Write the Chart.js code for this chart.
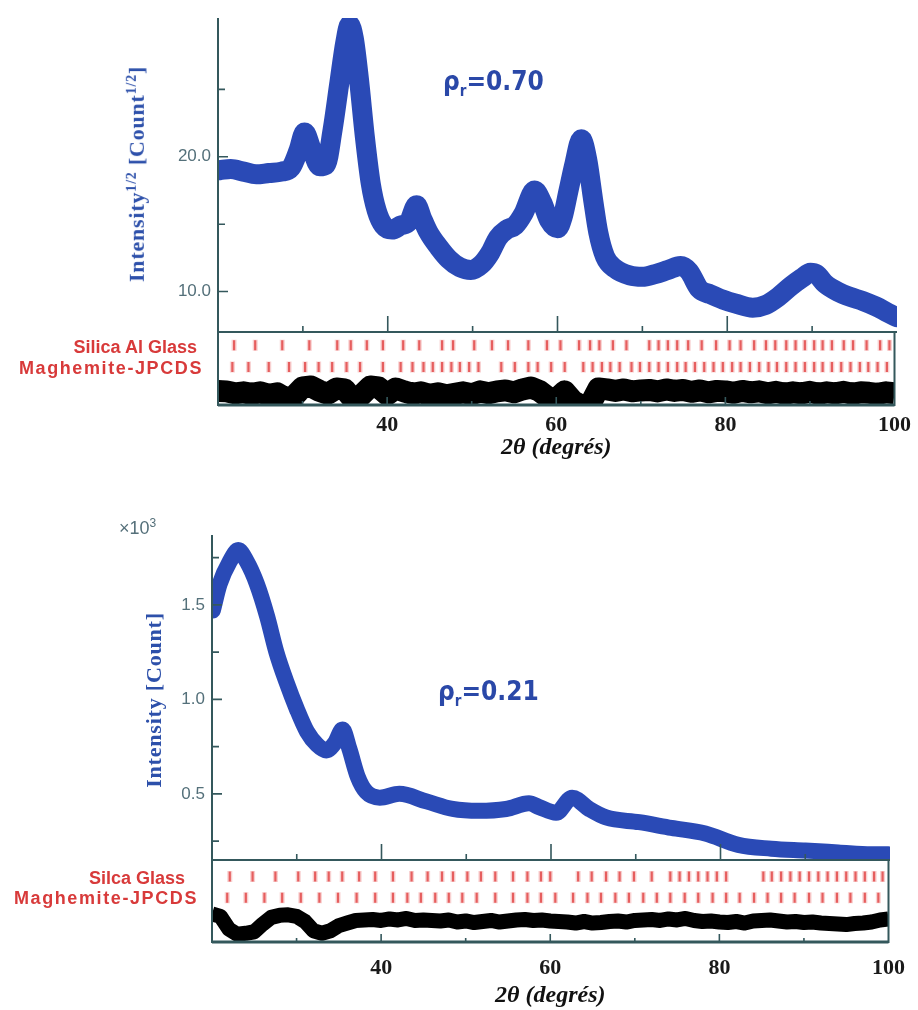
<!DOCTYPE html>
<html>
<head>
<meta charset="utf-8">
<script src="https://cdn.jsdelivr.net/npm/chart.js@4.4.1/dist/chart.umd.min.js"></script>
<style>
  body { margin: 0; background: #fff; width: 918px; height: 1010px; position: relative; overflow: hidden; }
  canvas { position: absolute; left: 0; }
  .ytitle { position: absolute; font: bold 22px 'Liberation Serif', serif; color: #2d50aa; white-space: nowrap;
            transform: translate(-50%, -50%) rotate(-90deg); letter-spacing: 0.8px; }
  .ytitle sup { font-size: 14px; }
  .rho { position: absolute; font: bold 26px 'Liberation Sans Narrow', 'DejaVu Sans Condensed', sans-serif; color: #2a48a8; white-space: nowrap; }
  .rho sub { font-size: 15px; }
  .row { position: absolute; width: 210px; text-align: right; font: bold 18px 'Liberation Sans', Arial, sans-serif;
         color: #d83a3a; white-space: nowrap; transform: translateY(-50%); }
  .mult { position: absolute; font: 18px 'Liberation Sans', Arial, sans-serif; color: #55707a; }
</style>
</head>
<body>
<canvas id="main70" width="918" height="340" style="top:0"></canvas>
<canvas id="low70" width="918" height="130" style="top:332px"></canvas>
<canvas id="main21" width="918" height="345" style="top:520px"></canvas>
<canvas id="low21" width="918" height="150" style="top:860px"></canvas>

<div class="ytitle" style="left:137px; top:174px">Intensity<sup>1/2</sup> [Count<sup>1/2</sup>]</div>
<div class="ytitle" style="left:154px; top:700px">Intensity [Count]</div>
<div class="rho" style="left:443px; top:66px">ρ<sub>r</sub>=0.70</div>
<div class="rho" style="left:438px; top:676px">ρ<sub>r</sub>=0.21</div>
<div class="mult" style="left:119px; top:516px">×10<sup style="font-size:12px">3</sup></div>
<div class="row" style="left:-13px; top:347px">Silica Al Glass</div>
<div class="row" style="left:-7px; top:368px; letter-spacing:1.6px">Maghemite-JPCDS</div>
<div class="row" style="left:-25px; top:878px">Silca Glass</div>
<div class="row" style="left:-12px; top:898px; letter-spacing:1.6px">Maghemite-JPCDS</div>

<script>
// ---- observed profile, rho_r = 0.70 (sqrt counts) ----
const tth70 = [20.2, 21.5, 23, 24.5, 26, 27.5, 28.6, 29.5, 30.2, 31, 32, 32.7, 33.5, 34.3, 35, 35.5, 36, 36.6, 37.3, 38,
               38.7, 39.5, 40.5, 41.5, 42.5, 43.4, 44, 44.8, 46, 47.2, 48.5, 49.8, 51, 52, 53, 54, 55, 56, 57.3, 58.2,
               59, 60, 60.6, 61.3, 62, 62.8, 63.5, 64.2, 64.8, 65.6, 66.8, 68.5, 70, 71.5, 73, 74.5, 75.5, 76.7, 78, 79.5,
               81, 83, 84.5, 86, 87.5, 88.8, 89.8, 90.5, 91.5, 93, 94.5, 96, 97.5, 99, 100];
const int70 = [19.0, 19.1, 18.9, 18.7, 18.8, 18.9, 19.2, 20.5, 21.8, 20.6, 19.3, 19.4, 22.0, 25.5, 28.5, 29.8, 28.8, 25.8, 21.5, 18.0,
               16.0, 14.9, 14.6, 14.9, 15.2, 16.4, 15.5, 14.4, 13.3, 12.4, 11.8, 11.6, 12.0, 12.8, 14.0, 14.6, 14.9, 15.8, 17.5, 16.6,
               15.3, 14.7, 15.5, 17.5, 19.5, 21.3, 19.8, 16.8, 14.4, 12.6, 11.7, 11.2, 11.1, 11.3, 11.6, 11.9, 11.5, 10.2, 9.8, 9.4,
               9.1, 8.8, 9.0, 9.6, 10.4, 11.0, 11.4, 11.3, 10.6, 10.0, 9.6, 9.3, 8.9, 8.4, 8.1];

// ---- observed profile, rho_r = 0.21 (x1000 counts) ----
const tth21 = [20.1, 20.9, 22.1, 23.1, 24.1, 25.3, 26.5, 27.6, 28.8, 30.0, 31.2, 32.4, 33.5, 34.5, 35.4, 36.2, 37.2, 38.2, 39.8, 42.1,
               45.3, 48.4, 51.5, 54.7, 57.4, 58.6, 60.6, 62.5, 64.5, 66.5, 70.4, 74.2, 78.2, 82.1, 86.0, 90.0, 93.9, 97.8, 99.8];
const int21 = [1.47, 1.61, 1.73, 1.79, 1.73, 1.61, 1.44, 1.25, 1.09, 0.95, 0.83, 0.76, 0.73, 0.77, 0.84, 0.74, 0.59, 0.51, 0.48, 0.50,
               0.46, 0.42, 0.41, 0.42, 0.45, 0.43, 0.40, 0.48, 0.42, 0.375, 0.35, 0.32, 0.29, 0.23, 0.21, 0.20, 0.19, 0.18, 0.18];

// ---- difference curves (obs - calc), one value per degree ----
const diffDeg = [20, 21, 22, 23, 24, 25, 26, 27, 28, 29, 30, 31, 32, 33, 34, 35, 36, 37, 38, 39,
                 40, 41, 42, 43, 44, 45, 46, 47, 48, 49, 50, 51, 52, 53, 54, 55, 56, 57, 58, 59,
                 60, 61, 62, 63, 64, 65, 66, 67, 68, 69, 70, 71, 72, 73, 74, 75, 76, 77, 78, 79,
                 80, 81, 82, 83, 84, 85, 86, 87, 88, 89, 90, 91, 92, 93, 94, 95, 96, 97, 98, 99, 100];
const diff70 = [0.3, 0.2, -0.2, 0, -0.3, 0, -0.5, -0.2, -1.2, -0.8, 1.0, 1.2, 0.3, -0.3, 0.8, 0.6, -1.5, -0.5, 1.2, 1.0,
                -0.5, 0.8, 0.2, -0.3, 0, -0.5, -0.2, -0.6, -0.3, 0, -0.4, 0.2, -0.2, 0.2, 0.4, 0, 0.6, 1.0, 0.3, -1.0,
                -1.4, 0.2, -1.8, -2.8, -2.5, 0.8, 0.6, 0.3, 0.6, 0.2, 0.4, 0.5, 0.2, 0.6, 0.3, 0.5, 0.1, 0.4, 0, 0.3,
                0.2, -0.1, 0.3, 0, 0.2, -0.2, 0.1, -0.3, 0, -0.2, 0.1, -0.3, 0, -0.2, 0.1, -0.3, 0, -0.1, -0.3, 0, -0.2];
const diff21 = [1.5, 1.0, -1.5, -2.5, -2.3, -2.0, -0.5, 0.8, 1.2, 1.3, 1.0, 0, -1.8, -2.3, -1.8, -0.8, -0.3, 0.2, 0.3, 0.4,
                0.2, 0.5, 0.3, 0.6, 0.2, 0.3, 0.2, 0.1, 0.3, -0.1, 0.1, -0.2, 0, 0.2, -0.1, 0.1, 0.3, 0.4, 0.2, 0.3,
                0.1, 0, -0.1, -0.3, 0, -0.3, -0.2, 0, 0.1, -0.1, 0.2, 0.3, 0.4, 0.2, 0.5, 0.3, 0.6, 0.2, 0, 0.1,
                -0.1, -0.2, 0, -0.3, 0.1, 0.2, 0.3, 0.1, -0.1, 0, -0.2, -0.1, -0.3, -0.4, -0.5, -0.6, -0.4, -0.3, -0.1, 0.3, 0.5];

// ---- Bragg reflection positions (2theta) ----
const glass70 = [21.9, 24.4, 27.6, 30.8, 34.1, 35.7, 37.6, 39.5, 41.9, 43.8, 46.5, 47.8, 50.3, 52.4, 54.3, 56.7, 58.9, 60.5,
                 62.7, 64.0, 65.1, 66.7, 68.3, 71.0, 72.1, 73.2, 74.3, 75.6, 77.2, 78.9, 80.5, 81.8, 83.4, 84.8, 85.9, 87.2,
                 88.3, 89.4, 90.5, 91.5, 92.6, 94.0, 95.1, 96.7, 98.3, 99.4];
const magh70 = [21.7, 23.6, 26.0, 28.4, 30.3, 31.9, 33.5, 35.2, 36.8, 39.5, 41.6, 43.0, 44.3, 45.4, 46.5, 47.6, 48.6, 49.7,
                50.8, 53.5, 55.1, 56.7, 57.8, 59.4, 61.0, 63.2, 64.3, 65.4, 66.4, 67.5, 68.9, 69.9, 71.0, 72.1, 73.2, 74.3,
                75.3, 76.4, 77.5, 78.6, 79.7, 80.8, 81.8, 82.9, 84.0, 85.1, 86.1, 87.2, 88.3, 89.4, 90.5, 91.5, 92.6, 93.7,
                94.8, 95.9, 96.9, 98.0, 99.1];
const glass21 = [22.1, 24.8, 27.5, 30.2, 32.2, 33.8, 35.4, 37.4, 39.3, 41.4, 43.6, 45.5, 47.2, 48.5, 50.2, 51.8, 53.5, 55.6,
                 57.3, 58.9, 60.0, 63.3, 64.9, 66.6, 68.2, 69.9, 72.0, 74.2, 75.3, 76.4, 77.5, 78.6, 79.7, 80.8, 85.2, 86.2,
                 87.3, 88.4, 89.5, 90.6, 91.7, 92.8, 93.9, 95.0, 96.1, 97.2, 98.3, 99.3];
const magh21 = [21.8, 24.0, 26.2, 28.3, 30.5, 32.7, 34.9, 37.1, 39.3, 41.4, 43.1, 44.7, 46.4, 48.0, 49.6, 51.3, 53.5, 55.6,
                57.3, 58.9, 60.6, 62.7, 64.4, 66.0, 67.7, 69.3, 71.0, 72.6, 74.2, 75.9, 77.5, 79.2, 80.8, 82.4, 84.1, 85.7,
                87.3, 88.9, 90.6, 92.2, 93.9, 95.5, 97.2, 98.8];

// ---- axis ticks ----
const xLabels = [40, 60, 80, 100];
const xMajor = [40, 60, 80];
const xMinor = [30, 50, 70, 90];
const yLabels70 = [10, 20];
const yMinor70 = [15, 25];
const yLabels21 = [0.5, 1.0, 1.5];
const yMinor21 = [0.25, 0.75, 1.25, 1.75];

const BLUE = 'rgb(42,74,182)';
const RED = 'rgb(222,48,48)';
const AXIS = 'rgb(52,88,92)';
const TICKTXT = 'rgb(84,112,122)';

const pts = (xs, ys) => xs.map((x, i) => ({ x, y: ys[i] }));
const rowPts = (xs, level) => xs.map(x => ({ x, y: level }));

// axis lines, inward tick marks and y tick labels
const frame = {
  id: 'frame',
  afterDatasetsDraw(chart, args, o) {
    if (!o.on) return;
    const { ctx, chartArea: a } = chart;
    const sx = chart.scales.x, sy = chart.scales.y;
    ctx.save();
    ctx.strokeStyle = AXIS;
    ctx.lineWidth = 2;
    ctx.beginPath();
    if (o.box) {
      ctx.rect(a.left, a.top, a.right - a.left, a.bottom - a.top);
    } else {
      ctx.moveTo(a.left, a.top);
      ctx.lineTo(a.left, a.bottom);
      ctx.lineTo(a.right, a.bottom);
    }
    ctx.stroke();
    if (o.box) {
      ctx.lineWidth = 3;
      ctx.beginPath();
      ctx.moveTo(a.left, a.bottom);
      ctx.lineTo(a.right, a.bottom);
      ctx.stroke();
    }
    ctx.lineWidth = 1.6;
    ctx.beginPath();
    (o.xTicks || []).forEach(([vals, len]) => vals.forEach(v => {
      const x = sx.getPixelForValue(v);
      ctx.moveTo(x, a.bottom);
      ctx.lineTo(x, a.bottom - len);
    }));
    (o.yTicks || []).forEach(([vals, len]) => vals.forEach(v => {
      const y = sy.getPixelForValue(v);
      ctx.moveTo(a.left, y);
      ctx.lineTo(a.left + len, y);
    }));
    ctx.stroke();
    if (o.yLabels) {
      ctx.fillStyle = TICKTXT;
      ctx.font = "17px 'Liberation Sans', Arial, sans-serif";
      ctx.textAlign = 'right';
      ctx.textBaseline = 'middle';
      o.yLabels.forEach(v => ctx.fillText(v.toFixed(1), a.left - 7, sy.getPixelForValue(v)));
    }
    ctx.restore();
  }
};
Chart.register(frame);

function mainChart(id, xs, ys, o) {
  new Chart(document.getElementById(id), {
    type: 'line',
    data: {
      datasets: [
        { data: pts(xs, ys), borderColor: BLUE, borderWidth: o.band, pointRadius: 0,
          borderJoinStyle: 'round', borderCapStyle: 'round', cubicInterpolationMode: 'monotone' },
        { data: pts(xs, ys), borderColor: 'rgba(10,14,40,0.85)', borderWidth: 1.2, pointRadius: 0,
          cubicInterpolationMode: 'monotone' }
      ]
    },
    options: {
      responsive: false,
      animation: false,
      events: [],
      layout: { autoPadding: false, padding: o.padding },
      plugins: {
        legend: { display: false },
        tooltip: { enabled: false },
        frame: { on: true, xTicks: [[xMajor, 16], [xMinor, 6]], yTicks: [[o.yLabels, 10], [o.yMinor, 7]],
                 yLabels: o.yLabels }
      },
      scales: {
        x: { type: 'linear', min: 20, max: 100, display: false },
        y: { min: o.yMin, max: o.yMax, display: false }
      }
    }
  });
}

function lowerChart(id, diff, glass, magh, o) {
  const halo = { showLine: false, yAxisID: 'yr', pointStyle: 'line', pointRotation: 90,
                 pointRadius: 5.5, pointBorderWidth: 5, borderColor: 'rgba(240,150,150,0.45)' };
  const tick = { showLine: false, yAxisID: 'yr', pointStyle: 'line', pointRotation: 90,
                 pointRadius: 5, pointBorderWidth: 2.2, borderColor: RED, backgroundColor: RED };
  new Chart(document.getElementById(id), {
    type: 'scatter',
    data: {
      datasets: [
        { ...halo, data: rowPts(glass, o.rows[0]) },
        { ...halo, data: rowPts(magh, o.rows[1]) },
        { ...tick, data: rowPts(glass, o.rows[0]) },
        { ...tick, data: rowPts(magh, o.rows[1]) },
        { data: pts(diffDeg, diff), showLine: true, yAxisID: 'yd', borderColor: '#000', borderWidth: o.band,
          pointRadius: 0, borderJoinStyle: 'round' }
      ]
    },
    options: {
      responsive: false,
      animation: false,
      events: [],
      layout: { autoPadding: false, padding: { left: o.left, right: o.right, top: 0, bottom: 0 } },
      plugins: {
        legend: { display: false },
        tooltip: { enabled: false },
        frame: { on: true, box: true, xTicks: [[xMajor, 8], [xMinor, 4]] }
      },
      scales: {
        x: {
          type: 'linear', min: 20, max: 100,
          afterFit: s => { s.height = o.axisH; },
          afterBuildTicks: s => { s.ticks = xLabels.map(v => ({ value: v })); },
          grid: { display: false, drawTicks: false },
          border: { display: false },
          ticks: { padding: o.labelPad, color: '#1a1a1a', maxRotation: 0, autoSkip: false,
                   font: { family: "'Liberation Serif', serif", size: 22, weight: 'bold' } },
          title: { display: true, text: '2θ (degrés)', color: '#111', padding: 0,
                   font: { family: "'Liberation Serif', serif", size: 24, weight: 'bold', style: 'italic' } }
        },
        y: { display: false },
        yr: { display: false, min: 0, max: 1 },
        yd: { display: false, min: o.dMin, max: o.dMax }
      }
    }
  });
}

mainChart('main70', tth70, int70, {
  band: 20, padding: { left: 218, right: 21, top: 18, bottom: 8 },
  yMin: 7, yMax: 30.3, yLabels: yLabels70, yMinor: yMinor70
});
lowerChart('low70', diff70, glass70, magh70, {
  left: 218, right: 21, axisH: 57, labelPad: 7, band: 22, rows: [0.82, 0.52], dMin: -2.6, dMax: 12.4
});

mainChart('main21', tth21, int21, {
  band: 16, padding: { left: 212, right: 28, top: 15, bottom: 5 },
  yMin: 0.15, yMax: 1.87, yLabels: yLabels21, yMinor: yMinor21
});
lowerChart('low21', diff21, glass21, magh21, {
  left: 212, right: 28, axisH: 68, labelPad: 13, band: 15, rows: [0.80, 0.54], dMin: -4, dMax: 12
});
</script>
</body>
</html>
